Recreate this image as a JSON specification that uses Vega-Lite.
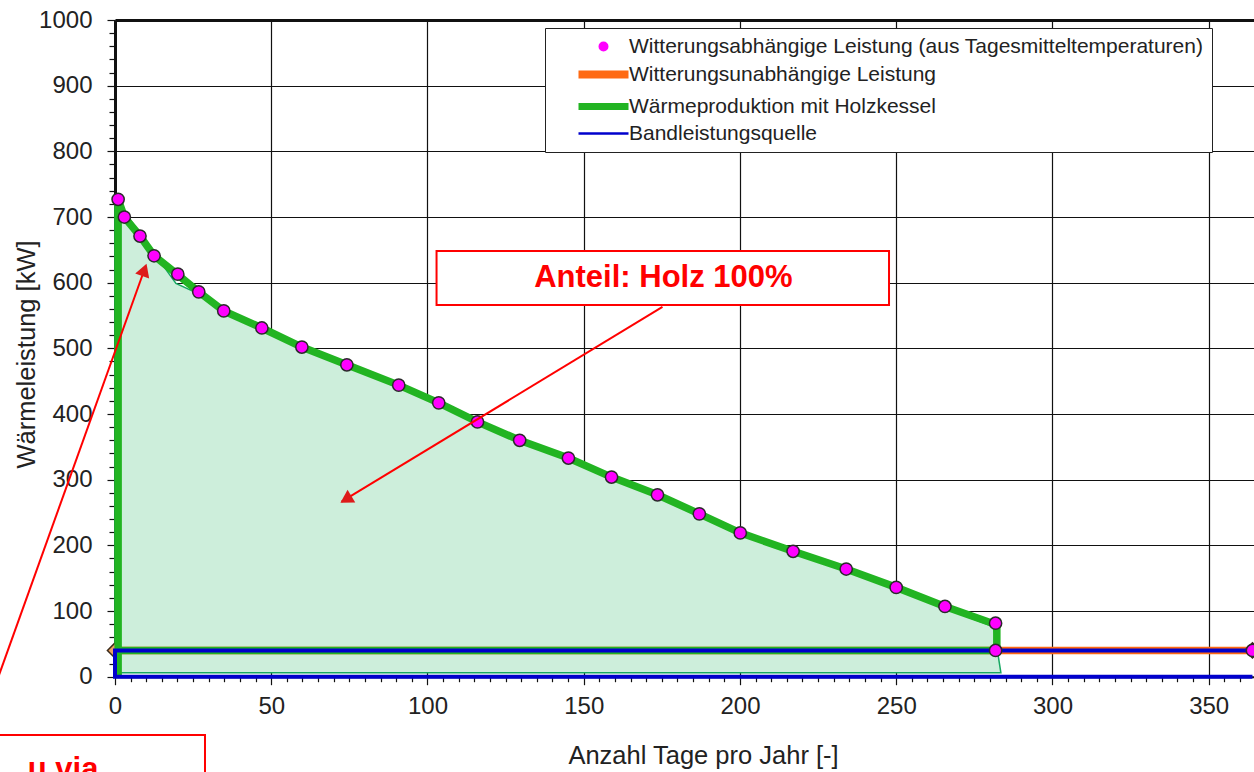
{
  "$schema": "https://vega.github.io/schema/vega-lite/v6.json",
  "autosize": {"type": "none"},
  "padding": {"left": 115, "top": 20, "right": 0, "bottom": 95.3},
  "width": 1139,
  "height": 656.7,
  "background": "#ffffff",
  "config": {
    "font": "Liberation Sans",
    "view": {"stroke": null}
  },
  "datasets": {
    "pts": [
      {"day": 1, "kw": 727, "series": "Witterungsabhängige Leistung (aus Tagesmitteltemperaturen)"},
      {"day": 3, "kw": 700, "series": "Witterungsabhängige Leistung (aus Tagesmitteltemperaturen)"},
      {"day": 8, "kw": 671, "series": "Witterungsabhängige Leistung (aus Tagesmitteltemperaturen)"},
      {"day": 12.5, "kw": 641, "series": "Witterungsabhängige Leistung (aus Tagesmitteltemperaturen)"},
      {"day": 20.1, "kw": 613, "series": "Witterungsabhängige Leistung (aus Tagesmitteltemperaturen)"},
      {"day": 26.8, "kw": 586, "series": "Witterungsabhängige Leistung (aus Tagesmitteltemperaturen)"},
      {"day": 34.8, "kw": 557, "series": "Witterungsabhängige Leistung (aus Tagesmitteltemperaturen)"},
      {"day": 47, "kw": 531, "series": "Witterungsabhängige Leistung (aus Tagesmitteltemperaturen)"},
      {"day": 59.8, "kw": 502, "series": "Witterungsabhängige Leistung (aus Tagesmitteltemperaturen)"},
      {"day": 74.2, "kw": 475, "series": "Witterungsabhängige Leistung (aus Tagesmitteltemperaturen)"},
      {"day": 90.8, "kw": 444, "series": "Witterungsabhängige Leistung (aus Tagesmitteltemperaturen)"},
      {"day": 103.6, "kw": 417, "series": "Witterungsabhängige Leistung (aus Tagesmitteltemperaturen)"},
      {"day": 116, "kw": 388, "series": "Witterungsabhängige Leistung (aus Tagesmitteltemperaturen)"},
      {"day": 129.5, "kw": 360, "series": "Witterungsabhängige Leistung (aus Tagesmitteltemperaturen)"},
      {"day": 145.1, "kw": 333, "series": "Witterungsabhängige Leistung (aus Tagesmitteltemperaturen)"},
      {"day": 158.9, "kw": 304, "series": "Witterungsabhängige Leistung (aus Tagesmitteltemperaturen)"},
      {"day": 173.6, "kw": 277, "series": "Witterungsabhängige Leistung (aus Tagesmitteltemperaturen)"},
      {"day": 187, "kw": 248, "series": "Witterungsabhängige Leistung (aus Tagesmitteltemperaturen)"},
      {"day": 200.1, "kw": 219, "series": "Witterungsabhängige Leistung (aus Tagesmitteltemperaturen)"},
      {"day": 217, "kw": 191, "series": "Witterungsabhängige Leistung (aus Tagesmitteltemperaturen)"},
      {"day": 234, "kw": 164, "series": "Witterungsabhängige Leistung (aus Tagesmitteltemperaturen)"},
      {"day": 250, "kw": 136, "series": "Witterungsabhängige Leistung (aus Tagesmitteltemperaturen)"},
      {"day": 265.6, "kw": 107, "series": "Witterungsabhängige Leistung (aus Tagesmitteltemperaturen)"},
      {"day": 281.8, "kw": 81.5, "series": "Witterungsabhängige Leistung (aus Tagesmitteltemperaturen)"},
      {"day": 281.8, "kw": 40, "series": "Witterungsabhängige Leistung (aus Tagesmitteltemperaturen)"},
      {"day": 364, "kw": 40, "series": "Witterungsabhängige Leistung (aus Tagesmitteltemperaturen)"}
    ],
    "fill": [
      {"day": 0, "kw": 728, "base": 6},
      {"day": 19.5, "kw": 599, "base": 6},
      {"day": 26.8, "kw": 583, "base": 6},
      {"day": 34.8, "kw": 554, "base": 6},
      {"day": 47, "kw": 528, "base": 6},
      {"day": 59.8, "kw": 499, "base": 6},
      {"day": 74.2, "kw": 472, "base": 6},
      {"day": 90.8, "kw": 441, "base": 6},
      {"day": 103.6, "kw": 414, "base": 6},
      {"day": 116, "kw": 385, "base": 6},
      {"day": 129.5, "kw": 357, "base": 6},
      {"day": 145.1, "kw": 330, "base": 6},
      {"day": 158.9, "kw": 301, "base": 6},
      {"day": 173.6, "kw": 274, "base": 6},
      {"day": 187, "kw": 245, "base": 6},
      {"day": 200.1, "kw": 216, "base": 6},
      {"day": 217, "kw": 188, "base": 6},
      {"day": 234, "kw": 161, "base": 6},
      {"day": 250, "kw": 133, "base": 6},
      {"day": 265.6, "kw": 104, "base": 6},
      {"day": 281.2, "kw": 76, "base": 6},
      {"day": 283.5, "kw": 6, "base": 6}
    ],
    "green": [
      {"o": 0, "day": 1, "kw": 0, "series": "Wärmeproduktion mit Holzkessel"},
      {"o": 1, "day": 1, "kw": 727, "series": "Wärmeproduktion mit Holzkessel"},
      {"o": 2, "day": 3, "kw": 700, "series": "Wärmeproduktion mit Holzkessel"},
      {"o": 3, "day": 8, "kw": 671, "series": "Wärmeproduktion mit Holzkessel"},
      {"o": 4, "day": 12.5, "kw": 641, "series": "Wärmeproduktion mit Holzkessel"},
      {"o": 5, "day": 20.1, "kw": 612, "series": "Wärmeproduktion mit Holzkessel"},
      {"o": 6, "day": 26.8, "kw": 586, "series": "Wärmeproduktion mit Holzkessel"},
      {"o": 7, "day": 34.8, "kw": 557, "series": "Wärmeproduktion mit Holzkessel"},
      {"o": 8, "day": 47, "kw": 531, "series": "Wärmeproduktion mit Holzkessel"},
      {"o": 9, "day": 59.8, "kw": 502, "series": "Wärmeproduktion mit Holzkessel"},
      {"o": 10, "day": 74.2, "kw": 475, "series": "Wärmeproduktion mit Holzkessel"},
      {"o": 11, "day": 90.8, "kw": 444, "series": "Wärmeproduktion mit Holzkessel"},
      {"o": 12, "day": 103.6, "kw": 417, "series": "Wärmeproduktion mit Holzkessel"},
      {"o": 13, "day": 116, "kw": 388, "series": "Wärmeproduktion mit Holzkessel"},
      {"o": 14, "day": 129.5, "kw": 360, "series": "Wärmeproduktion mit Holzkessel"},
      {"o": 15, "day": 145.1, "kw": 333, "series": "Wärmeproduktion mit Holzkessel"},
      {"o": 16, "day": 158.9, "kw": 304, "series": "Wärmeproduktion mit Holzkessel"},
      {"o": 17, "day": 173.6, "kw": 277, "series": "Wärmeproduktion mit Holzkessel"},
      {"o": 18, "day": 187, "kw": 248, "series": "Wärmeproduktion mit Holzkessel"},
      {"o": 19, "day": 200.1, "kw": 219, "series": "Wärmeproduktion mit Holzkessel"},
      {"o": 20, "day": 217, "kw": 191, "series": "Wärmeproduktion mit Holzkessel"},
      {"o": 21, "day": 234, "kw": 164, "series": "Wärmeproduktion mit Holzkessel"},
      {"o": 22, "day": 250, "kw": 136, "series": "Wärmeproduktion mit Holzkessel"},
      {"o": 23, "day": 265.6, "kw": 107, "series": "Wärmeproduktion mit Holzkessel"},
      {"o": 24, "day": 282.2, "kw": 79, "series": "Wärmeproduktion mit Holzkessel"},
      {"o": 25, "day": 282.2, "kw": 40, "series": "Wärmeproduktion mit Holzkessel"},
      {"o": 26, "day": 1, "kw": 40, "series": "Wärmeproduktion mit Holzkessel"}
    ],
    "orange": [
      {"day": 0, "kw": 40, "series": "Witterungsunabhängige Leistung"},
      {"day": 364, "kw": 40, "series": "Witterungsunabhängige Leistung"}
    ],
    "blue": [
      {"o": 0, "day": 364, "kw": 40, "series": "Bandleistungsquelle"},
      {"o": 1, "day": 0, "kw": 40, "series": "Bandleistungsquelle"},
      {"o": 2, "day": 0, "kw": 0, "series": "Bandleistungsquelle"},
      {"o": 3, "day": 364, "kw": 0, "series": "Bandleistungsquelle"}
    ],
    "boxes": [
      {"x1": 102.9, "x2": 247.7, "y1": 566, "y2": 648.2},
      {"x1": -60, "x2": 28.8, "y1": -88.8, "y2": -170}
    ],
    "labels": [
      {"day": 175.5, "kw": 607, "txt": "Anteil: Holz 100%", "al": "center"},
      {"day": -16.6, "kw": -142, "txt": "u via", "al": "right"}
    ],
    "arrows": [
      {"x1": 175.2, "y1": 563, "x2": 72.5, "y2": 266.5},
      {"x1": -44, "y1": -88.8, "x2": 9.8, "y2": 625}
    ],
    "heads": [
      {"day": 73.9, "kw": 269.8, "ang": 238.75},
      {"day": 9.4, "kw": 619.5, "ang": 19.76}
    ]
  },
  "layer": [
    {
      "data": {"name": "fill"},
      "mark": {"type": "area", "fill": "#cdeedb", "stroke": "#17a862", "strokeWidth": 1.5, "strokeJoin": "miter"},
      "encoding": {
        "x": {
          "field": "day", "type": "quantitative",
          "scale": {"domain": [0, 364.5], "nice": false, "zero": false},
          "axis": {
            "values": [0,5,10,15,20,25,30,35,40,45,50,55,60,65,70,75,80,85,90,95,100,105,110,115,120,125,130,135,140,145,150,155,160,165,170,175,180,185,190,195,200,205,210,215,220,225,230,235,240,245,250,255,260,265,270,275,280,285,290,295,300,305,310,315,320,325,330,335,340,345,350,355,360],
            "tickCount": 500,
            "format": "d",
            "labelExpr": "datum.value % 50 === 0 ? datum.label : ''",
            "labelOverlap": false,
            "labelBound": false,
            "grid": true,
            "gridColor": "#111111",
            "gridWidth": 1.2,
            "gridOpacity": {"condition": {"test": "datum.value % 50 === 0", "value": 1}, "value": 0},
            "tickSize": {"condition": {"test": "datum.value % 50 === 0", "value": 8}, "value": 5},
            "tickColor": "#111111",
            "tickWidth": 1.2,
            "domainColor": "#111111",
            "domainWidth": 2,
            "labelFontSize": 24,
            "labelColor": "#222222",
            "labelPadding": 10,
            "labelFlush": false,
            "title": "Anzahl Tage pro Jahr [-]",
            "titleFontSize": 25.5,
            "titleFontWeight": "normal",
            "titleColor": "#222222",
            "titleX": 588,
            "titleY": 87,
            "titleBaseline": "alphabetic",
            "titleAlign": "center"
          }
        },
        "y": {
          "field": "kw", "type": "quantitative",
          "scale": {"domain": [0, 1000], "nice": false},
          "axis": {
            "values": [0,20,40,60,80,100,120,140,160,180,200,220,240,260,280,300,320,340,360,380,400,420,440,460,480,500,520,540,560,580,600,620,640,660,680,700,720,740,760,780,800,820,840,860,880,900,920,940,960,980,1000],
            "tickCount": 500,
            "format": "d",
            "labelExpr": "datum.value % 100 === 0 ? datum.label : ''",
            "labelOverlap": false,
            "labelBound": false,
            "grid": true,
            "gridColor": "#111111",
            "gridWidth": {"condition": {"test": "datum.value === 1000", "value": 3}, "value": 1.2},
            "gridOpacity": {"condition": {"test": "datum.value % 100 === 0", "value": 1}, "value": 0},
            "tickSize": {"condition": {"test": "datum.value % 100 === 0", "value": 8}, "value": 6},
            "tickColor": "#111111",
            "tickWidth": 1.2,
            "domainColor": "#111111",
            "domainWidth": 3,
            "labelFontSize": 24,
            "labelColor": "#222222",
            "labelPadding": 15,
            "labelFlush": false,
            "title": "Wärmeleistung [kW]",
            "titleFontSize": 25.5,
            "titleFontWeight": "normal",
            "titleColor": "#222222",
            "titleX": -88.5,
            "titleY": 334,
            "titleAngle": -90,
            "titleBaseline": "middle",
            "titleAlign": "center"
          }
        },
        "y2": {"field": "base"}
      }
    },
    {
      "data": {"name": "orange"},
      "mark": {"type": "line", "strokeWidth": 7.5, "point": {"shape": "diamond", "size": 230, "filled": true, "fill": "#eea060", "stroke": "#3a2a1a", "strokeWidth": 1.5}},
      "encoding": {
        "x": {"field": "day", "type": "quantitative"},
        "y": {"field": "kw", "type": "quantitative"},
        "color": {
          "field": "series", "type": "nominal",
          "scale": {
            "domain": ["Witterungsabhängige Leistung (aus Tagesmitteltemperaturen)", "Witterungsunabhängige Leistung", "Wärmeproduktion mit Holzkessel", "Bandleistungsquelle"],
            "range": ["#ff00ff", "#ff6a13", "#22b422", "#0000cc"]
          },
          "legend": {
            "orient": "none",
            "legendX": 430,
            "legendY": 8,
            "title": null,
            "fillColor": "#ffffff",
            "strokeColor": "#222222",
            "padding": 8,
            "symbolOffset": 40,
            "labelOffset": 15,
            "labelFont": "Liberation Sans",
            "labelFontSize": 21,
            "labelColor": "#222222",
            "labelLimit": 900,
            "rowPadding": 1,
            "symbolSize": 625,
            "symbolType": {"expr": "datum.value == 'Witterungsabhängige Leistung (aus Tagesmitteltemperaturen)' ? 'M0.34,0A0.34,0.34 0 1 1 -0.34,0A0.34,0.34 0 1 1 0.34,0Z' : 'M-2,0H2'"},
            "symbolFillColor": {"expr": "datum.value == 'Witterungsabhängige Leistung (aus Tagesmitteltemperaturen)' ? '#ff00ff' : 'transparent'"},
            "symbolStrokeWidth": {"expr": "datum.value == 'Witterungsabhängige Leistung (aus Tagesmitteltemperaturen)' ? 1.5 : datum.value == 'Witterungsunabhängige Leistung' ? 8 : datum.value == 'Wärmeproduktion mit Holzkessel' ? 7 : 2.5"}
          }
        }
      }
    },
    {
      "data": {"name": "green"},
      "mark": {"type": "line", "strokeWidth": 7.5, "strokeJoin": "miter"},
      "encoding": {
        "x": {"field": "day", "type": "quantitative"},
        "y": {"field": "kw", "type": "quantitative"},
        "order": {"field": "o", "type": "quantitative"},
        "color": {"field": "series", "type": "nominal"}
      }
    },
    {
      "data": {"name": "blue"},
      "mark": {"type": "line", "strokeWidth": 4, "strokeJoin": "miter"},
      "encoding": {
        "x": {"field": "day", "type": "quantitative"},
        "y": {"field": "kw", "type": "quantitative"},
        "order": {"field": "o", "type": "quantitative"},
        "color": {"field": "series", "type": "nominal"}
      }
    },
    {
      "data": {"name": "pts"},
      "mark": {"type": "point", "shape": "circle", "filled": true, "size": 150, "stroke": "#2a2a2a", "strokeWidth": 1.5, "opacity": 1},
      "encoding": {
        "x": {"field": "day", "type": "quantitative"},
        "y": {"field": "kw", "type": "quantitative"},
        "color": {"field": "series", "type": "nominal"}
      }
    },
    {
      "data": {"name": "arrows"},
      "mark": {"type": "rule", "color": "#ff0000", "strokeWidth": 2},
      "encoding": {
        "x": {"field": "x1", "type": "quantitative"},
        "y": {"field": "y1", "type": "quantitative"},
        "x2": {"field": "x2"},
        "y2": {"field": "y2"}
      }
    },
    {
      "data": {"name": "heads"},
      "mark": {"type": "point", "shape": "triangle-up", "filled": true, "size": 220, "color": "#dd1a1a", "opacity": 1},
      "encoding": {
        "x": {"field": "day", "type": "quantitative"},
        "y": {"field": "kw", "type": "quantitative"},
        "angle": {"field": "ang", "type": "quantitative", "scale": {"domain": [0, 360], "range": [0, 360]}}
      }
    },
    {
      "data": {"name": "boxes"},
      "mark": {"type": "rect", "fill": "#ffffff", "stroke": "#ff0000", "strokeWidth": 2},
      "encoding": {
        "x": {"field": "x1", "type": "quantitative"},
        "x2": {"field": "x2"},
        "y": {"field": "y1", "type": "quantitative"},
        "y2": {"field": "y2"}
      }
    },
    {
      "data": {"name": "labels"},
      "mark": {"type": "text", "font": "Liberation Sans", "fontWeight": "bold", "fontSize": 31, "color": "#ff0000", "baseline": "middle"},
      "encoding": {
        "x": {"field": "day", "type": "quantitative"},
        "y": {"field": "kw", "type": "quantitative"},
        "text": {"field": "txt"},
        "align": {"field": "al", "type": "nominal", "scale": null}
      }
    }
  ]
}
